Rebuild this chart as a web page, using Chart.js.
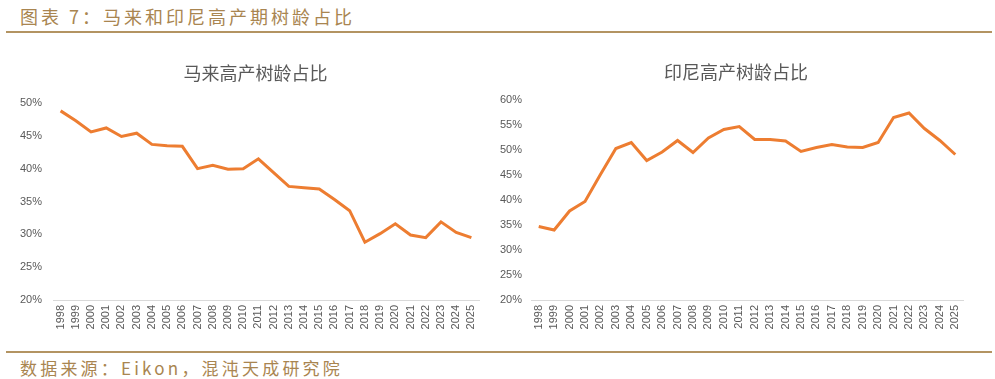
<!DOCTYPE html>
<html><head><meta charset="utf-8">
<script src="https://cdn.jsdelivr.net/npm/chart.js@4/dist/chart.umd.min.js"></script>
<style>
html,body{margin:0;padding:0;background:#fff;width:995px;height:379px;overflow:hidden;position:relative;font-family:"Noto Sans CJK SC",sans-serif;}
#hdr{position:absolute;left:20px;top:3px;font-size:18px;color:#a98550;letter-spacing:3px;white-space:nowrap;}
#rule1{position:absolute;left:6px;top:31px;width:986px;height:2px;background:#b39462;}
#rule2{position:absolute;left:6px;top:351px;width:986px;height:2px;background:#b39462;}
#ftr{position:absolute;left:20px;top:355px;font-size:17px;color:#a98550;letter-spacing:3.2px;white-space:nowrap;}
#c1w{position:absolute;left:0;top:40px;width:495px;height:300px;}
#c2w{position:absolute;left:495px;top:40px;width:500px;height:300px;}
</style></head><body>
<div id="hdr">图表 7：马来和印尼高产期树龄占比</div>
<div id="rule1"></div>
<div id="c1w"><canvas id="c1"></canvas></div>
<div id="c2w"><canvas id="c2"></canvas></div>
<div id="rule2"></div>
<div id="ftr">数据来源：Eikon，混沌天成研究院</div>
<script>
const years = ['1998','1999','2000','2001','2002','2003','2004','2005','2006','2007','2008','2009','2010','2011','2012','2013','2014','2015','2016','2017','2018','2019','2020','2021','2022','2023','2024','2025'];
const malaysia = [48.8,47.3,45.6,46.2,44.9,45.4,43.7,43.5,43.4,40.0,40.5,39.9,40.0,41.5,39.4,37.3,37.1,36.9,35.3,33.6,28.8,30.1,31.6,29.9,29.5,31.9,30.3,29.5];
const indonesia = [34.7,34.0,37.8,39.7,45.1,50.3,51.5,47.9,49.6,51.9,49.5,52.4,54.1,54.7,52.1,52.1,51.8,49.7,50.5,51.1,50.6,50.5,51.5,56.5,57.4,54.3,51.9,49.1];
const titleLeft = '马来高产树龄占比';
const titleRight = '印尼高产树龄占比';
const leftTicks = {min:20, max:50, step:5};
const rightTicks = {min:20, max:60, step:5};

function makeChart(id, title, data, tk, cfg){
  return new Chart(document.getElementById(id), {
    type:'line',
    data:{labels:years, datasets:[{data:data, borderColor:'#ED7D31', backgroundColor:'#ED7D31', borderWidth:3, pointRadius:0, tension:0, fill:false}]},
    options:{
      responsive:true, maintainAspectRatio:false, animation:false,
      layout:{padding:{left:0,right:cfg.padRight,top:0,bottom:0}},
      plugins:{
        legend:{display:false}, tooltip:{enabled:false},
        title:{display:true, text:title, color:'#595959', font:{family:'"Noto Sans CJK SC"', size:18, weight:'normal', lineHeight:1}, padding:{top:cfg.tTop,bottom:cfg.tBot}}
      },
      scales:{
        x:{offset:true, grid:{display:false, drawTicks:false}, border:{display:true,color:'#d9d9d9',width:1},
           ticks:{color:'#595959', font:{family:'"Liberation Sans"', size:11}, minRotation:90, maxRotation:90, padding:5, autoSkip:false},
           afterFit:(s)=>{s.height=40;}},
        y:{min:tk.min, max:tk.max, grid:{display:false, drawTicks:false}, border:{display:false},
           ticks:{stepSize:tk.step, color:'#595959', font:{family:'"Liberation Sans"', size:11}, padding:cfg.yPad, callback:(v)=>v+'%'},
           afterFit:(s)=>{s.width=cfg.yW;}}
      }
    },
    plugins:[{id:'titleShift', afterLayout(chart){ if(chart.titleBlock){ chart.titleBlock.left += cfg.tShift; chart.titleBlock.right += cfg.tShift; } }}]
  });
}
makeChart('c1', titleLeft, malaysia, leftTicks, {padRight:16, tTop:24, tBot:21, yW:53, yPad:11, tShift:16});
makeChart('c2', titleRight, indonesia, rightTicks, {padRight:32, tTop:23, tBot:19, yW:36, yPad:9, tShift:7});
</script>
</body></html>
